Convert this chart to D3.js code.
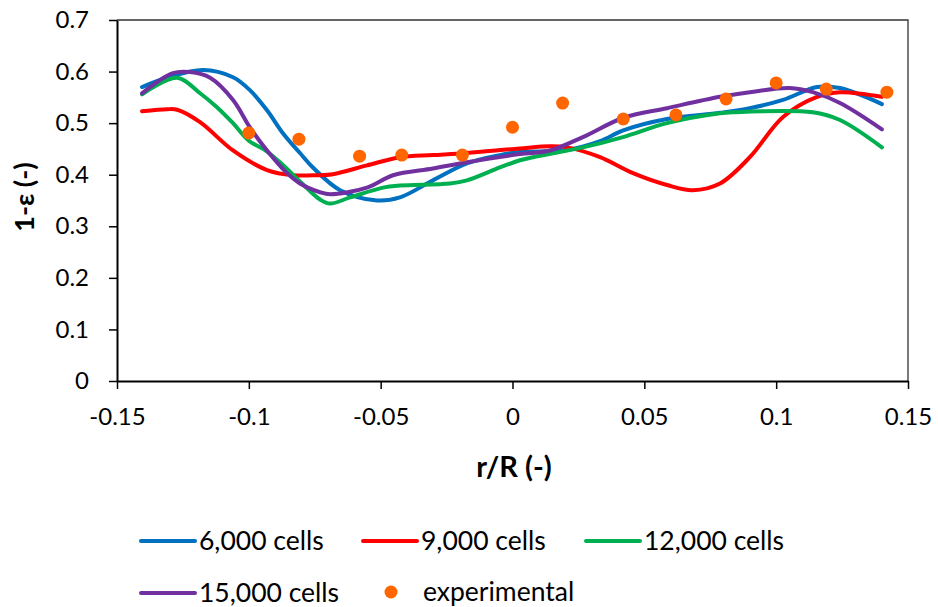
<!DOCTYPE html>
<html>
<head>
<meta charset="utf-8">
<script src="https://cdn.jsdelivr.net/npm/d3@7"></script>
<style>
  body { margin: 0; background: #fff; }
  text { font-family: Lato, "Open Sans", sans-serif; fill: #000; }
</style>
</head>
<body>
<div id="chart"></div>
<script>
// axis ticks
var xTicks = [-0.15, -0.1, -0.05, 0, 0.05, 0.1, 0.15];
var yTicks = [0, 0.1, 0.2, 0.3, 0.4, 0.5, 0.6, 0.7];

// simulated profiles, [r/R, 1-eps]
var cells6000 = [[-0.1405,0.570],[-0.131,0.588],[-0.1174,0.603],[-0.106,0.589],[-0.0996,0.564],[-0.0931,0.525],[-0.087,0.480],[-0.0806,0.442],[-0.0757,0.414],[-0.0654,0.370],[-0.0514,0.350],[-0.0427,0.356],[-0.0302,0.389],[-0.0173,0.422],[-0.0048,0.438],[0.0028,0.444],[0.0207,0.448],[0.0332,0.465],[0.042,0.486],[0.0586,0.508],[0.0787,0.520],[0.090,0.529],[0.1026,0.545],[0.1155,0.570],[0.1242,0.568],[0.1401,0.537]];
var cells9000 = [[-0.1405,0.523],[-0.131,0.527],[-0.1272,0.526],[-0.1185,0.502],[-0.106,0.447],[-0.0931,0.409],[-0.0833,0.399],[-0.0742,0.399],[-0.0681,0.401],[-0.0552,0.418],[-0.0427,0.434],[-0.0302,0.438],[-0.0173,0.442],[0.0028,0.451],[0.0142,0.455],[0.0207,0.453],[0.0332,0.434],[0.0457,0.403],[0.0586,0.380],[0.0684,0.370],[0.0787,0.383],[0.090,0.434],[0.1026,0.512],[0.1155,0.551],[0.1242,0.560],[0.1401,0.551]];
var cells12000 = [[-0.1405,0.556],[-0.1272,0.588],[-0.1185,0.558],[-0.1121,0.531],[-0.106,0.500],[-0.100,0.466],[-0.094,0.448],[-0.088,0.423],[-0.080,0.384],[-0.073,0.352],[-0.0692,0.344],[-0.0616,0.356],[-0.0491,0.375],[-0.0427,0.379],[-0.0237,0.383],[-0.0173,0.389],[-0.0048,0.414],[0.0028,0.428],[0.0078,0.434],[0.0267,0.453],[0.0419,0.473],[0.0586,0.500],[0.0787,0.519],[0.0836,0.521],[0.1139,0.521],[0.1242,0.506],[0.1401,0.453]];
var cells15000 = [[-0.1405,0.558],[-0.1288,0.597],[-0.1223,0.599],[-0.1147,0.588],[-0.106,0.545],[-0.0996,0.492],[-0.0931,0.447],[-0.0855,0.403],[-0.0806,0.383],[-0.073,0.366],[-0.0692,0.362],[-0.0552,0.375],[-0.0453,0.399],[-0.0302,0.412],[-0.0173,0.424],[0.0028,0.440],[0.0142,0.447],[0.0267,0.473],[0.0419,0.510],[0.0586,0.529],[0.0787,0.551],[0.090,0.560],[0.1052,0.568],[0.1139,0.560],[0.1242,0.539],[0.1401,0.488]];

// measurements
var expR   = [-0.1, -0.081, -0.058, -0.042, -0.019, 0, 0.019, 0.042, 0.062, 0.081, 0.1, 0.119, 0.142];
var expVal = [0.481, 0.469, 0.436, 0.438, 0.438, 0.492, 0.539, 0.508, 0.516, 0.547, 0.578, 0.566, 0.560];

var seriesNames = ['6,000 cells', '9,000 cells', '12,000 cells', '15,000 cells'];
var seriesColors = ['#0070C0', '#FF0000', '#00B050', '#7030A0'];
var expName = 'experimental';
var expColor = '#FF6600';

var series = [cells6000, cells9000, cells12000, cells15000];

var width = 938, height = 607;
var svg = d3.select('#chart').append('svg')
  .attr('width', width)
  .attr('height', height);

var x = d3.scaleLinear().domain([-0.15, 0.15]).range([117, 908]);
var y = d3.scaleLinear().domain([0, 0.7]).range([381, 20]);

// plot area frame (top/right)
svg.append('path')
  .attr('d', 'M' + x(-0.15) + ',' + y(0.7) + 'H' + x(0.15) + 'V' + y(0))
  .attr('fill', 'none')
  .attr('stroke', '#333')
  .attr('stroke-width', 1.3);

var xAxis = svg.append('g')
  .attr('transform', 'translate(0,' + y(0) + ')')
  .call(d3.axisBottom(x)
    .tickValues(xTicks)
    .tickSize(8)
    .tickSizeOuter(0)
    .tickPadding(19)
    .tickFormat(function(d) { return d; }));

var yAxis = svg.append('g')
  .attr('transform', 'translate(' + x(-0.15) + ',0)')
  .call(d3.axisLeft(y)
    .tickValues(yTicks)
    .tickSize(8)
    .tickSizeOuter(0)
    .tickPadding(20)
    .tickFormat(function(d) { return d; }));

[xAxis, yAxis].forEach(function(g) {
  g.select('.domain').attr('stroke', '#000').attr('stroke-width', 2);
  g.selectAll('.tick line').attr('stroke', '#000').attr('stroke-width', 1.5);
  g.selectAll('.tick text').attr('font-size', 24).attr('font-family', 'Lato').attr('fill', '#000');
});

// axis titles
svg.append('text')
  .attr('x', 514)
  .attr('y', 467)
  .attr('dy', '0.35em')
  .attr('text-anchor', 'middle')
  .attr('font-size', 29)
  .attr('font-weight', 'bold')
  .text('r/R (-)');

svg.append('text')
  .attr('transform', 'translate(25,197) rotate(-90)')
  .attr('dy', '0.35em')
  .attr('text-anchor', 'middle')
  .attr('font-size', 27)
  .attr('font-weight', 'bold')
  .text('1-ε (-)');

// curves
var line = d3.line()
  .x(function(d) { return x(d[0]); })
  .y(function(d) { return y(d[1]); })
  .curve(d3.curveCatmullRom.alpha(0.5));

svg.selectAll('.sim')
    .data(series)
  .enter().append('path')
    .attr('class', 'sim')
    .attr('d', line)
    .attr('fill', 'none')
    .attr('stroke', function(d, i) { return seriesColors[i]; })
    .attr('stroke-width', 4)
    .attr('stroke-linecap', 'round');

svg.selectAll('.exp')
    .data(expR)
  .enter().append('circle')
    .attr('class', 'exp')
    .attr('cx', function(d) { return x(d); })
    .attr('cy', function(d, i) { return y(expVal[i]); })
    .attr('r', 6.5)
    .attr('fill', expColor);

// legend
var legendPos = [[141, 541], [363, 541], [586, 541], [141, 593]];
var legend = svg.selectAll('.legend-item')
    .data(seriesNames)
  .enter().append('g')
    .attr('class', 'legend-item')
    .attr('transform', function(d, i) { return 'translate(' + legendPos[i][0] + ',' + legendPos[i][1] + ')'; });

legend.append('line')
  .attr('x1', 0).attr('x2', 54)
  .attr('y1', 0).attr('y2', 0)
  .attr('stroke', function(d, i) { return seriesColors[i]; })
  .attr('stroke-width', 4)
  .attr('stroke-linecap', 'round');

legend.append('text')
  .attr('x', 58)
  .attr('dy', '0.35em')
  .attr('font-size', 26.5)
  .text(function(d) { return d; });

var expLegend = svg.append('g').attr('transform', 'translate(391,592)');
expLegend.append('circle').attr('r', 6.5).attr('fill', expColor);
expLegend.append('text')
  .attr('x', 32)
  .attr('dy', '0.35em')
  .attr('font-size', 26.5)
  .text(expName);
</script>
</body>
</html>
